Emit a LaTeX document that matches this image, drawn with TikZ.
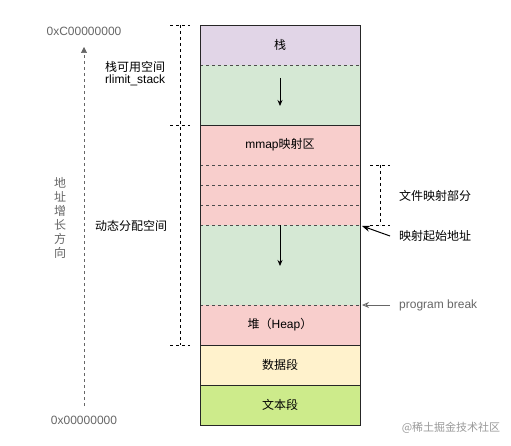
\documentclass[tikz,border=0pt]{standalone}
\usepackage{fontspec}
\setmainfont{Liberation Sans}
\newfontfamily\cjk{Noto Sans CJK SC}
\usetikzlibrary{arrows.meta}
\definecolor{stackpurple}{HTML}{E1D5E7}
\definecolor{freegreen}{HTML}{D5E8D4}
\definecolor{mapred}{HTML}{F8CECC}
\definecolor{datayellow}{HTML}{FFF2CC}
\definecolor{textgreen}{HTML}{CDEB8B}
\definecolor{addrgray}{HTML}{666666}

\begin{document}
\begin{tikzpicture}[x=1pt, y=-1pt,
  font=\fontsize{12}{14}\selectfont,
  segline/.style={draw=black!85, line width=0.8pt},
  segdash/.style={draw=black!70, dashed, line width=0.5pt},
  bracket/.style={draw=black, dashed, line width=0.6pt},
  addr/.style={text=addrgray, inner sep=1pt},
  lbl/.style={inner sep=1pt, align=left},
]
  \useasboundingbox (0,0) rectangle (511,446);
  \def\L{200} \def\R{360} \def\M{280}
  % segment fills
  \fill[stackpurple] (\L,25)  rectangle (\R,65);
  \fill[freegreen]   (\L,65)  rectangle (\R,125);
  \fill[mapred]      (\L,125) rectangle (\R,225);
  \fill[freegreen]   (\L,225) rectangle (\R,305);
  \fill[mapred]      (\L,305) rectangle (\R,345);
  \fill[datayellow]  (\L,345) rectangle (\R,385);
  \fill[textgreen]   (\L,385) rectangle (\R,425);
  % inner borders
  \draw[segdash] (\L,65) -- (\R,65);
  \foreach \y in {165,185,205,225} \draw[segdash] (\L,\y) -- (\R,\y);
  \draw[segdash] (\L,305) -- (\R,305);
  \foreach \y in {125,345,385} \draw[segline] (\L,\y) -- (\R,\y);
  \draw[segline] (\L,25) rectangle (\R,425);
  % segment texts
  \node (stack) at (\M,45)  {\cjk 栈};
  \node (mmap)  at (\M,145) {mmap\cjk 映射区};
  \node (heap)  at (\M,325) {\cjk 堆（\rmfamily Heap\cjk ）};
  \node (data)  at (\M,365) {\cjk 数据段};
  \node (text)  at (\M,405) {\cjk 文本段};
  % growth arrows
  \coordinate (sgrowA) at (\M,78);
  \coordinate (sgrowB) at (\M,106);
  \coordinate (mgrowA) at (\M,225);
  \coordinate (mgrowB) at (\M,266);
  \draw[-{Stealth[length=6pt,width=5pt]}, line width=0.8pt] (sgrowA) -- (sgrowB);
  \draw[-{Stealth[length=6pt,width=5pt]}, line width=0.8pt] (mgrowA) -- (mgrowB);
  % left brackets
  \draw[bracket] (170,25) -- (190,25);
  \draw[bracket] (170,125) -- (190,125);
  \draw[bracket] (170,345) -- (190,345);
  \draw[bracket] (180,25) -- (180,345);
  \node[lbl, anchor=west] (rlimit) at (104,74)
    {{\cjk 栈可用空间}\\[-2pt]rlimit\_stack};
  \node[lbl, anchor=west] (dyn) at (94,226) {\cjk 动态分配空间};
  % right bracket
  \draw[bracket] (370,165) -- (390,165);
  \draw[bracket] (370,225) -- (390,225);
  \draw[bracket] (380,165) -- (380,225);
  \node[lbl, anchor=west] (filemap) at (398,196) {\cjk 文件映射部分};
  \node[lbl, anchor=west] (mapstart) at (398,236) {\cjk 映射起始地址};
  \node[lbl, anchor=west, text=addrgray] (brk) at (398,305) {program break};
  \coordinate (mapstartTip) at (362,226);
  \coordinate (brkTip) at (362,305);
  \draw[-{Stealth[length=8pt,width=6pt]}, line width=1pt] (mapstart.west) ++(-8,0) -- (mapstartTip);
  \draw[-{Stealth[open,length=7pt,width=6pt]}, draw=addrgray, line width=0.8pt] (brk.west) ++(-8,0) -- (brkTip);
  % address axis
  \node[addr] (top) at (84,31) {0xC00000000};
  \node[addr] (bottom) at (84,420) {0x00000000};
  \coordinate (axisLow) at (84,406);
  \coordinate (axisHigh) at (84,47);
  \draw[addrgray, dashed, line width=0.6pt, -{Triangle[length=6pt,width=6pt]}] (axisLow) -- (axisHigh);
  \node[addr, align=center, font=\cjk\fontsize{12}{14}\selectfont] (dir) at (60,218)
    {地\\址\\增\\长\\方\\向};
  % watermark
  \node[text=black!40, font=\cjk\fontsize{11}{12}\selectfont] (mark) at (451,428) {@稀土掘金技术社区};
\end{tikzpicture}
\end{document}
